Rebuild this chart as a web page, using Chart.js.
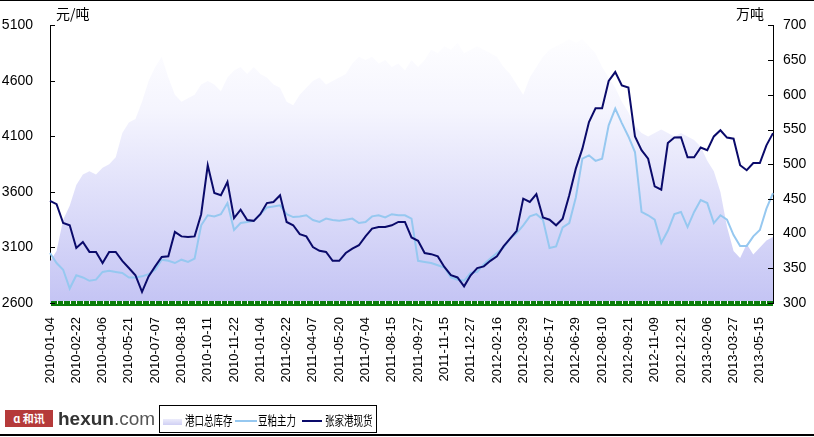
<!DOCTYPE html>
<html>
<head>
<meta charset="utf-8">
<script src="https://cdn.jsdelivr.net/npm/chart.js@4.4.0/dist/chart.umd.min.js"></script>
<style>
  body { margin: 0; background: #fff; }
  #wrap { position: relative; width: 814px; height: 437px; overflow: hidden; }
  #c { position: absolute; left: 0; top: 0; }
  .rule { position: absolute; left: 0; width: 814px; background: #000; }
  #legend { position: absolute; left: 159px; top: 405px; width: 216px; height: 26px; border: 1px solid #000; background: #fff; }
  .lg { position: absolute; }
  .lgt { position: absolute; top: 6px; font: 13px "Noto Sans CJK SC", sans-serif; line-height: 15px; color: #000;
         transform: scaleX(0.73); transform-origin: left center; white-space: nowrap; }
  #logo { position: absolute; left: 5px; top: 410px; width: 48px; height: 17px; background: #b53a3a; color: #fff;
          font: bold 11px "Noto Sans CJK SC", sans-serif; line-height: 17px; text-align: center; }
  #brand { position: absolute; left: 58px; top: 407px; font: 19px "Liberation Sans", Arial, sans-serif; color: #555; line-height: 24px; }
  #brand b { color: #333; }
</style>
</head>
<body>
<div id="wrap">
  <canvas id="c" width="814" height="437"></canvas>
  <div class="rule" style="top:0;height:1px"></div>
  <div class="rule" style="top:434px;height:2px"></div>
  <div id="logo">ɑ 和讯</div>
  <div id="brand"><b>hexun</b>.com</div>
  <div id="legend">
    <div class="lg" style="left:3px;top:13px;width:19px;height:6px;background:linear-gradient(#ececfb,#d0d0f4)"></div>
    <div class="lgt" style="left:25px">港口总库存</div>
    <div class="lg" style="left:75px;top:14px;width:22px;height:2px;background:#96c8f0"></div>
    <div class="lgt" style="left:98px">豆粕主力</div>
    <div class="lg" style="left:142px;top:14px;width:20px;height:2px;background:#0a0a6a"></div>
    <div class="lgt" style="left:165px">张家港现货</div>
  </div>
</div>
<script>
// tick labels shown every 4th point
const tickDates = [
  "2010-01-04", "2010-02-22", "2010-04-06", "2010-05-21", "2010-07-07", "2010-08-18", "2010-10-11",
  "2010-11-22", "2011-01-04", "2011-02-22", "2011-04-07", "2011-05-20", "2011-07-04", "2011-08-15",
  "2011-09-27", "2011-11-15", "2011-12-27", "2012-02-16", "2012-03-29", "2012-05-17", "2012-06-29",
  "2012-08-10", "2012-09-21", "2012-11-09", "2012-12-21", "2013-02-06", "2013-03-27", "2013-05-15"
];

// 港口总库存 (万吨, right axis)
const inventory = [
  360, 375, 420, 440, 470, 485, 490, 485, 495, 500,
  510, 545, 560, 565, 590, 620, 640, 655, 625, 600,
  590, 595, 600, 615, 620, 615, 605, 625, 635, 640,
  630, 640, 630, 625, 615, 610, 590, 585, 600, 610,
  620, 625, 615, 620, 625, 630, 645, 655, 650, 655,
  645, 650, 640, 645, 635, 650, 640, 650, 665, 660,
  670, 665, 675, 660, 665, 670, 665, 660, 655, 640,
  630, 615, 600, 625, 640, 655, 665, 670, 675, 680,
  675, 680, 670, 660, 640, 625, 610, 590, 575, 555,
  545, 540, 545, 550, 545, 540, 545, 540, 535, 525,
  505, 490, 460, 410, 375, 365, 385, 370, 380, 390, 395
];

// 豆粕主力 (元/吨)
const mealFutures = [
  3050, 2960, 2900, 2730, 2850, 2830, 2800, 2810, 2880, 2890,
  2880, 2870, 2830, 2830, 2840, 2860, 2900, 2990, 2980, 2960,
  2990, 2970, 3000, 3300, 3390, 3380, 3400, 3500, 3257, 3320,
  3330, 3340, 3400, 3460, 3470, 3480, 3400, 3374, 3380, 3390,
  3347, 3330, 3360, 3347, 3340, 3350, 3360, 3320, 3330, 3380,
  3390, 3370, 3400, 3390, 3390, 3360, 2980, 2970, 2960, 2940,
  2920, 2830, 2810, 2800, 2870, 2880, 2950, 3000, 3050, 3100,
  3180, 3230, 3300, 3380, 3400, 3350, 3095, 3110, 3280, 3320,
  3550, 3900, 3930, 3880, 3900, 4200, 4350, 4220, 4100, 3960,
  3420, 3390, 3350, 3140, 3250, 3400, 3420, 3284, 3420, 3527,
  3500, 3320, 3390, 3350, 3212, 3114, 3114, 3200, 3257, 3450, 3590
];

// 张家港现货 (元/吨)
const spotPrice = [
  3520, 3490, 3320, 3300, 3095, 3150, 3060, 3060, 2960, 3060,
  3060, 2980, 2915, 2850, 2700, 2840, 2930, 3014, 3020, 3240,
  3200, 3195, 3200, 3400, 3840, 3590, 3570, 3690, 3365, 3440,
  3347, 3340, 3400, 3500, 3510, 3570, 3330, 3300, 3220, 3200,
  3104, 3070, 3060, 2980, 2980, 3050, 3090, 3120, 3200, 3270,
  3284, 3284, 3300, 3330, 3330, 3190, 3160, 3050, 3040, 3020,
  2925, 2850, 2830, 2750, 2850, 2915, 2930, 2980, 3020, 3110,
  3180, 3250, 3540, 3510, 3580, 3370, 3350, 3300, 3360, 3570,
  3810, 3990, 4230, 4354, 4354, 4600, 4680, 4560, 4540, 4100,
  3976, 3900, 3650, 3620, 4040, 4090, 4093, 3913, 3913, 4000,
  3976, 4100, 4156, 4090, 4080, 3841, 3796, 3860, 3860, 4020, 4130
];

const labels = inventory.map((v, i) => (i % 4 === 0 && tickDates[i / 4]) ? tickDates[i / 4] : "");

// green dashed baseline, inward tick marks and the two unit titles
const axisExtras = {
  id: "axisExtras",
  afterDraw(chart) {
    const ctx = chart.ctx;
    const area = chart.chartArea;
    const xs = chart.scales.x, yl = chart.scales.y, yr = chart.scales.y2;
    ctx.save();
    ctx.fillStyle = "#0a7d0a";
    ctx.fillRect(area.left + 1, area.bottom - 2, area.right - area.left - 1, 5);
    ctx.fillStyle = "#fff";
    for (let i = 1; i < labels.length - 1; i++) {
      const x = Math.round(xs.getPixelForValue(i));
      ctx.fillRect(x, area.bottom - 2, 1, 3);
    }
    ctx.strokeStyle = "#000";
    ctx.lineWidth = 1;
    yl.ticks.forEach(t => {
      const y = Math.round(yl.getPixelForValue(t.value)) + 0.5;
      ctx.beginPath(); ctx.moveTo(yl.right, y); ctx.lineTo(yl.right + 5, y); ctx.stroke();
    });
    yr.ticks.forEach(t => {
      const y = Math.round(yr.getPixelForValue(t.value)) + 0.5;
      ctx.beginPath(); ctx.moveTo(yr.left - 5, y); ctx.lineTo(yr.left, y); ctx.stroke();
    });
    ctx.fillStyle = "#000";
    ctx.font = '14px "Noto Sans CJK SC"';
    ctx.textBaseline = "middle";
    ctx.textAlign = "left";
    ctx.fillText("元/吨", 56, 14);
    ctx.textAlign = "right";
    ctx.fillText("万吨", 764, 14);
    ctx.restore();
  }
};

const ctx = document.getElementById("c").getContext("2d");
new Chart(ctx, {
  type: "line",
  data: {
    labels: labels,
    datasets: [
      {
        label: "港口总库存",
        data: inventory,
        yAxisID: "y2",
        fill: "start",
        backgroundColor: (c) => {
          const area = c.chart.chartArea;
          if (!area) return "#dcdcf8";
          const g = c.chart.ctx.createLinearGradient(0, area.top, 0, area.bottom);
          g.addColorStop(0, "#ffffff");
          g.addColorStop(0.3, "#f5f5fe");
          g.addColorStop(0.6, "#e0e0fa");
          g.addColorStop(1, "#c4c4f4");
          return g;
        },
        borderWidth: 0,
        pointRadius: 0,
        order: 3
      },
      {
        label: "豆粕主力",
        data: mealFutures,
        yAxisID: "y",
        borderColor: "#96c8f0",
        borderWidth: 2,
        pointRadius: 0,
        fill: false,
        order: 2
      },
      {
        label: "张家港现货",
        data: spotPrice,
        yAxisID: "y",
        borderColor: "#0a0a6a",
        borderWidth: 2,
        pointRadius: 0,
        fill: false,
        order: 1
      }
    ]
  },
  options: {
    responsive: false,
    animation: false,
    layout: { padding: { top: 25 } },
    plugins: { legend: { display: false }, tooltip: { enabled: false } },
    scales: {
      x: {
        grid: { drawOnChartArea: false, drawTicks: false },
        border: { color: "#0a7d0a", width: 1 },
        ticks: {
          autoSkip: false, minRotation: 90, maxRotation: 90, padding: 14,
          color: "#000", font: { family: "Liberation Sans", size: 13 }
        },
        afterFit: (s) => { s.height = 134; }
      },
      y: {
        position: "left",
        min: 2600, max: 5100,
        grid: { drawOnChartArea: false, drawTicks: false },
        border: { color: "#000", width: 1 },
        ticks: {
          stepSize: 500, padding: 17, color: "#000", font: { family: "Liberation Sans", size: 14 },
          callback: (v) => String(v)
        },
        afterFit: (s) => { s.width = 50; }
      },
      y2: {
        position: "right",
        min: 300, max: 700,
        grid: { drawOnChartArea: false, drawTicks: false },
        border: { color: "#000", width: 1 },
        ticks: {
          stepSize: 50, padding: 10, color: "#000", font: { family: "Liberation Sans", size: 14 },
          callback: (v) => String(v)
        },
        afterFit: (s) => { s.width = 41; }
      }
    }
  },
  plugins: [axisExtras]
});
</script>
</body>
</html>
